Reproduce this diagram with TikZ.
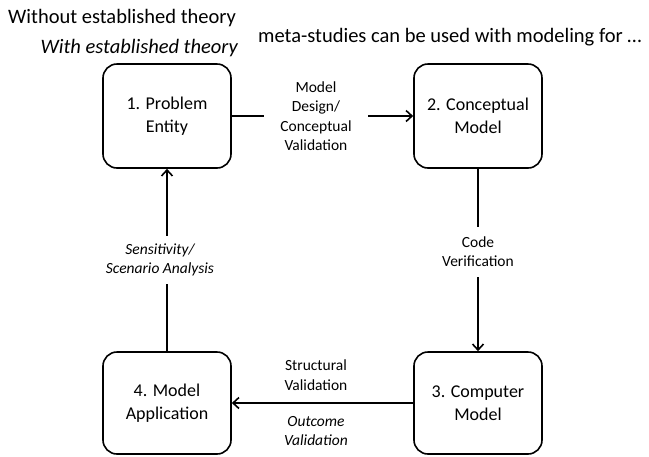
\documentclass[tikz,border=0pt]{standalone}
\usepackage{fontspec}
\setmainfont{Carlito}
\usetikzlibrary{arrows.meta}
\begin{document}
\begin{tikzpicture}[x=1pt,y=-1pt,
  box/.style={draw, line width=1.6pt, rounded corners=14pt, minimum width=128pt, minimum height=104pt, inner sep=0pt, align=center, font=\fontsize{18}{23}\selectfont},
  conn/.style={line width=1.8pt, -{Straight Barb[length=6pt,width=11pt,line width=1.6pt]}},
  lbl/.style={align=center, inner sep=0pt, font=\fontsize{15.5}{19.5}\selectfont},
  toptext/.style={inner sep=0pt, font=\fontsize{20.5}{24}\selectfont}]
\useasboundingbox (0,0) rectangle (649,456);
\node[toptext, anchor=west] (t1) at (8,18) {Without established theory};
\node[toptext, anchor=east] (t2) at (238,48) {\itshape With established theory};
\node[toptext, anchor=west] (t3) at (258,37) {meta-studies can be used with modeling for \dots};

\node[box] (b1) at (167,116) {1. Problem\\Entity};
\node[box] (b2) at (478,116) {2. Conceptual\\Model};
\node[box, minimum height=102pt] (b3) at (478,403) {3. Computer\\Model};
\node[box, minimum height=102pt] (b4) at (167,403) {4. Model\\Application};

\draw[conn] (b1) -- node[lbl, pos=0.464, fill=white, minimum width=104pt] (l12) {Model\\Design/\\Conceptual\\Validation} (b2);
\draw[conn] (b2) -- node[lbl, pos=0.455, fill=white, minimum height=50pt] (l23) {Code\\Verification} (b3);
\draw[conn] (b3) -- node[lbl, pos=0.536, yshift=28pt] (l34a) {Structural\\Validation}
                    node[lbl, pos=0.536, yshift=-28pt] (l34b) {\itshape Outcome\\\itshape Validation} (b4);
\draw[conn] (b4) -- node[lbl, fill=white, minimum height=48pt, xshift=-7pt] (l41) {\itshape Sensitivity/\\\itshape Scenario Analysis} (b1);
\end{tikzpicture}
\end{document}
